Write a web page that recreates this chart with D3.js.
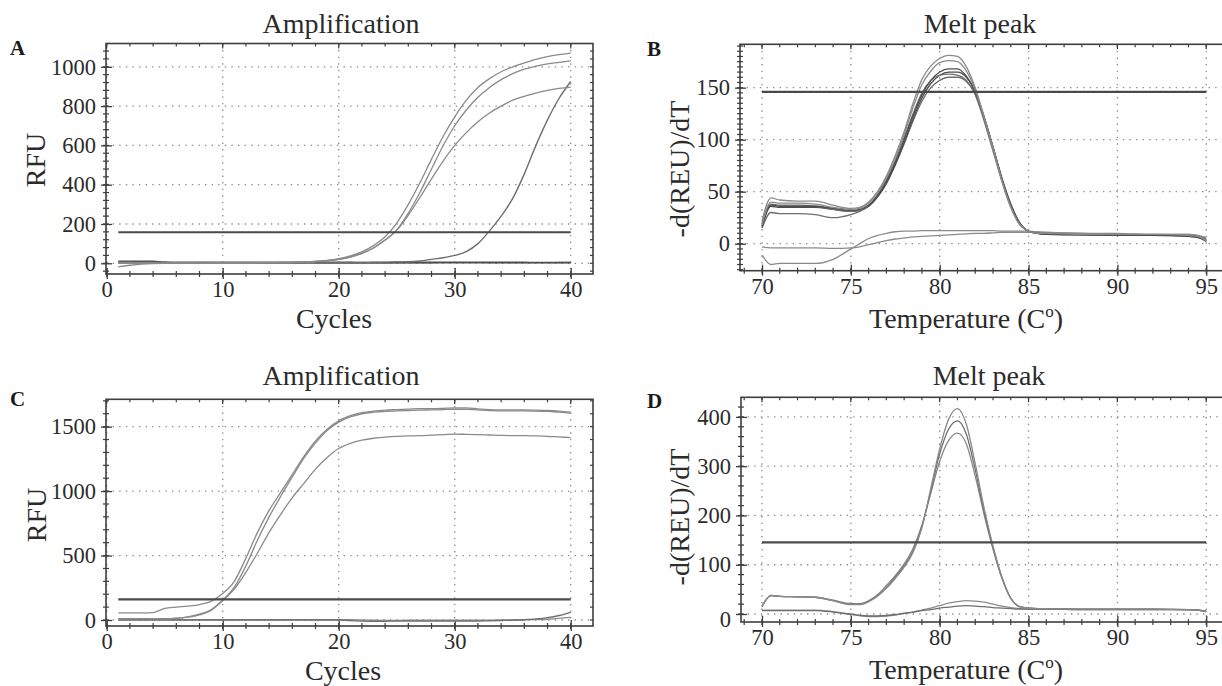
<!DOCTYPE html>
<html><head><meta charset="utf-8">
<script src="https://cdn.jsdelivr.net/npm/d3@7"></script>
<style>
body{margin:0;background:#fff;}
svg{display:block;}
svg text{font-family:"Liberation Serif","Times New Roman",serif !important;}
</style></head><body>
<svg id="chart" width="1222" height="686"></svg>
<script>
// ---------- DATA ----------
const cycles = [1,2,3,4,5,6,7,8,9,10,11,12,13,14,15,16,17,18,19,20,21,22,23,24,25,26,27,28,29,30,31,32,33,34,35,36,37,38,39,40];

// Panel A amplification (RFU)
const ampA1 = [3,2,2,1,1,2,2,1,1,2,2,2,3,3,4,5,7,10,15,24,38,58,90,135,205,300,410,530,645,745,830,895,940,975,1000,1020,1038,1052,1062,1070];
const ampA2 = [0,1,1,0,0,1,1,0,0,1,1,1,2,2,3,4,6,9,13,20,32,50,78,118,170,255,360,480,598,700,780,845,895,935,965,988,1003,1015,1023,1030];
const ampA3 = [1,1,0,0,1,1,0,0,1,1,1,2,2,3,3,4,6,9,13,20,32,50,78,118,168,245,335,430,520,600,665,720,765,800,830,850,866,880,890,897];
const ampA4 = [5,5,4,4,3,3,3,2,2,2,2,2,2,2,2,2,2,3,3,3,4,4,5,6,7,8,12,20,28,40,60,100,165,240,330,455,600,730,840,925];
const ampA5 = [-18,-10,-4,-1,0,0,1,1,1,0,0,1,1,1,1,0,0,1,1,1,1,1,1,1,2,2,2,2,2,2,2,2,3,3,3,3,3,3,4,4];
const ampA6 = [10,10,10,9,6,5,5,4,4,5,5,5,4,4,4,5,5,4,4,4,4,3,3,3,4,4,4,4,5,5,5,5,4,4,4,4,3,3,3,3];
const thresholdA = 158;

// Panel C amplification (RFU)
const ampC1 = [55,55,55,58,90,100,108,120,145,205,300,480,680,850,990,1130,1270,1390,1480,1545,1585,1608,1620,1628,1632,1636,1640,1640,1642,1645,1645,1638,1632,1630,1630,1630,1628,1625,1620,1612];
const ampC2 = [10,10,10,10,10,15,25,45,80,155,255,420,620,800,960,1110,1255,1375,1470,1535,1575,1600,1612,1618,1622,1625,1628,1630,1632,1635,1635,1630,1625,1622,1622,1622,1620,1618,1612,1605];
const ampC3 = [8,8,8,8,8,12,22,40,75,150,240,370,520,680,820,950,1060,1170,1260,1330,1370,1395,1410,1418,1424,1428,1430,1434,1438,1442,1440,1438,1435,1432,1430,1430,1428,1425,1420,1415];
const ampC4 = [0,0,0,0,0,0,0,0,0,0,0,0,0,0,0,0,0,0,0,0,-5,-8,-10,-10,-8,-8,-8,-8,-8,-8,-8,-8,-6,-4,-2,2,8,18,35,60];
const ampC5 = [3,3,3,3,3,3,3,3,3,3,3,3,3,3,3,3,3,3,3,3,2,0,-2,-3,-3,-2,-2,-2,-2,-2,-2,-2,-1,0,0,1,3,6,12,20];
const thresholdC = 160;

// Melt temperatures (deg C)
const temps = [70,70.5,71,72,73,74,75,75.5,76,76.5,77,77.5,78,78.5,79,79.5,80,80.5,81,81.5,82,82.5,83,83.5,84,84.5,85,85.5,86,88,90,92,94,94.5,95];

// Panel B melt peak -d(RFU)/dT
const meltB1 = [22,44,42,41,41,37,34,35,40,50,65,85,108,135,158,171,178,181,180,170,150,122,92,60,35,18,12,10,10,10,9,9,9,8,3];
const meltB2 = [18,40,39,39,38,35,33,34,39,49,63,82,105,131,153,166,174,176,175,166,148,121,92,61,35,19,12,10,10,9,9,9,8,7,3];
const meltB3 = [16,37,36,36,36,34,32,33,37,46,60,78,100,123,143,157,165,168,168,161,146,121,92,62,37,20,12,10,9,9,8,8,8,7,4];
const meltB4 = [17,36,35,35,35,33,31,32,36,45,58,76,97,120,140,154,162,165,165,160,146,122,93,63,38,20,12,10,9,9,8,8,7,6,3];
const meltB5 = [15,30,29,29,28,25,28,31,36,45,58,76,96,118,137,150,157,160,160,156,144,121,93,63,38,20,12,10,9,8,8,8,7,6,2];
const meltB6 = [20,38,37,37,36,33,31,32,37,47,61,80,102,125,145,157,162,163,162,157,143,118,89,60,36,19,12,10,10,9,9,8,8,7,3];
const meltBn1 = [-3,-4,-4,-4,-4,-4.5,-4,-3,-1,1,3,4.5,5.5,6.5,7,7.5,8,8.5,9,9.5,10,10,10.5,11,11,11,11,11,10.5,10,9,8,8,7,5];
const meltBn2 = [-11,-20,-19,-19,-19,-15,-5,0,5,8,10,11.5,12,12,12.5,12.5,12.5,12.5,12.5,12.5,12.5,12.5,12.5,12,12,12,12,11.5,11,10,10,9,9,8,6];
const thresholdB = 146;

// Panel D melt peak
const meltD1 = [15,38,36,35,34,27,19,19,25,36,52,72,95,125,175,255,335,395,417,385,305,215,138,75,32,15,12,11,11,10,10,10,9,8,5];
const meltD2 = [15,38,36,35,34,27,20,20,26,37,54,75,98,128,178,250,325,375,392,365,293,208,135,74,32,15,12,11,11,10,10,10,9,8,5];
const meltD3 = [16,37,36,35,34,28,21,21,27,39,58,78,102,133,180,245,310,352,367,345,280,202,132,73,32,15,12,11,11,10,10,10,9,8,5];
const meltDn1 = [8,8,8,8,8,5,0,-3,-5,-5,-4,-2,1,4,8,12,17,22,25,27,26,24,20,16,13,11,10,10,10,9,9,9,9,8,6];
const meltDn2 = [7,7,7,7,7,4,-1,-3,-4,-4,-3,-1,2,4,7,9,12,14,16,17,16,15,13,12,11,10,10,10,10,9,9,9,9,8,6];
const thresholdD = 145.5;

// Tick labels
const ampXTicks = [0,10,20,30,40];
const ampAYTicks = [0,200,400,600,800,1000];
const ampCYTicks = [0,500,1000,1500];
const meltXTicks = [70,75,80,85,90,95];
const meltBYTicks = [0,50,100,150];
const meltDYTicks = [0,100,200,300,400];

// ---------- DRAW ----------
const FONT = '"Liberation Serif","Times New Roman",serif';
const svg = d3.select("#chart");
svg.append("rect").attr("width",1222).attr("height",686).attr("fill","#fff");
const TXT = "#2b2b2b", AX = "#3e3e3e";

function panel(c, idx){
  const g = svg.append("g");
  const x = d3.scaleLinear().domain(c.xDomain).range([c.left, c.right]);
  const y = d3.scaleLinear().domain(c.yDomain).range([c.bottom, c.top]);
  const clipId = "clip"+idx;
  g.append("clipPath").attr("id",clipId).append("rect")
    .attr("x",c.left).attr("y",c.top).attr("width",c.right-c.left).attr("height",c.bottom-c.top);

  // grid
  const grid = g.append("g").attr("clip-path",`url(#${clipId})`)
    .attr("stroke","#8c8c8c").attr("stroke-width",1.3).attr("stroke-dasharray","1.4,5.2");
  c.xTicks.forEach(v=>grid.append("line").attr("x1",x(v)).attr("x2",x(v)).attr("y1",c.top).attr("y2",c.bottom));
  c.yTicks.forEach(v=>grid.append("line").attr("x1",c.left).attr("x2",c.right).attr("y1",y(v)).attr("y2",y(v)));

  // minor ticks
  const mg = g.append("g").attr("stroke",AX).attr("stroke-width",1.2);
  c.xMinor.forEach(v=>{
    if (x(v) < c.left-0.5 || x(v) > c.right) return;
    mg.append("line").attr("x1",x(v)).attr("x2",x(v)).attr("y1",c.bottom-3).attr("y2",c.bottom+3);
    mg.append("line").attr("x1",x(v)).attr("x2",x(v)).attr("y1",c.top).attr("y2",c.top+3);
  });
  c.yMinor.forEach(v=>{
    if (y(v) > c.bottom || y(v) < c.top) return;
    mg.append("line").attr("y1",y(v)).attr("y2",y(v)).attr("x1",c.left-3).attr("x2",c.left+3);
    mg.append("line").attr("y1",y(v)).attr("y2",y(v)).attr("x1",c.right-3).attr("x2",c.right);
  });

  // axes (major ticks + labels)
  const xa = g.append("g").attr("transform",`translate(0,${c.bottom})`)
    .call(d3.axisBottom(x).tickValues(c.xTicks).tickSize(5).tickPadding(2).tickFormat(d3.format("d")));
  xa.attr("font-family",FONT);
  xa.select(".domain").remove();
  xa.selectAll(".tick line").attr("y1",-6).attr("stroke",AX).attr("stroke-width",1.3);
  xa.selectAll(".tick text").attr("font-size",22.5).attr("fill",TXT).style("font-family",FONT);
  const ya = g.append("g").attr("transform",`translate(${c.left},0)`)
    .call(d3.axisLeft(y).tickValues(c.yTicks).tickSize(5).tickPadding(5).tickFormat(d3.format("d")));
  ya.attr("font-family",FONT);
  ya.select(".domain").remove();
  ya.selectAll(".tick line").attr("x1",6).attr("stroke",AX).attr("stroke-width",1.3);
  ya.selectAll(".tick text").attr("font-size",22.5).attr("fill",TXT).style("font-family",FONT);
  if (c.zeroShift) ya.selectAll(".tick text").filter(d=>d===0).attr("dy",(0.32*22.5+c.zeroShift)+"px");

  // top ticks for major
  c.xTicks.forEach(v=>mg.append("line").attr("x1",x(v)).attr("x2",x(v)).attr("y1",c.top).attr("y2",c.top+5));

  // frame
  g.append("rect").attr("x",c.left).attr("y",c.top).attr("width",c.right-c.left).attr("height",c.bottom-c.top)
    .attr("fill","none").attr("stroke",AX).attr("stroke-width",1.6);

  // curves
  const cg = g.append("g").attr("clip-path",`url(#${clipId})`);
  const line = d3.line().x(d=>x(d[0])).y(d=>y(d[1])).curve(d3.curveMonotoneX);
  c.series.forEach(s=>{
    cg.append("path").attr("d",line(c.xs.map((xv,i)=>[xv,s.v[i]])))
      .attr("fill","none").attr("stroke",s.color).attr("stroke-width",s.w||1.3);
  });
  // threshold
  cg.append("line").attr("x1",x(c.thrX[0])).attr("x2",x(c.thrX[1]))
    .attr("y1",y(c.thr)).attr("y2",y(c.thr)).attr("stroke","#4a4a4a").attr("stroke-width",2.2);

  // texts
  g.append("text").attr("x",c.titleX).attr("y",c.titleY).attr("text-anchor","middle")
    .attr("font-size",28).attr("fill",TXT).style("font-family",FONT).text(c.title);
  const xt = g.append("text").attr("x",c.xLabX).attr("y",c.xLabY).attr("text-anchor","middle")
    .attr("font-size",28).attr("fill",TXT).style("font-family",FONT);
  if (c.xLabSup){
    xt.append("tspan").text(c.xLab);
    xt.append("tspan").attr("dx",7).text("(C");
    xt.append("tspan").attr("font-size",17).attr("dy","-11").text(c.xLabSup);
    xt.append("tspan").attr("dy","11").text(")");
  } else xt.text(c.xLab);
  g.append("text").attr("transform",`translate(${c.yLabX},${c.yLabY}) rotate(-90)`).attr("text-anchor","middle")
    .attr("font-size",28).attr("fill",TXT).style("font-family",FONT).text(c.yLab);
  g.append("text").attr("x",c.letterX).attr("y",c.letterY).attr("font-size",21).attr("font-weight","bold")
    .attr("fill","#1a1a1a").style("font-family",FONT).text(c.letter);
}

const grayL = "#8a8a8a", grayM = "#6e6e6e", grayD = "#4d4d4d";

panel({
  letter:"A", letterX:10, letterY:55,
  title:"Amplification", titleX:341, titleY:33,
  xLab:"Cycles", xLabX:334, xLabY:328,
  yLab:"RFU", yLabX:45, yLabY:160,
  left:106, right:593, top:43.5, bottom:274,
  xDomain:[-0.06,41.92], yDomain:[-54.5,1118.6],
  xTicks:ampXTicks, yTicks:ampAYTicks,
  xMinor:d3.range(0,42,2), yMinor:d3.range(-40,1120,40),
  xs:cycles, thr:thresholdA, thrX:[1,40],
  series:[{v:ampA5,color:grayL},{v:ampA6,color:grayD,w:1.8},{v:ampA4,color:grayM,w:1.4},
          {v:ampA3,color:grayL},{v:ampA2,color:grayL},{v:ampA1,color:grayL}]
},0);

panel({
  letter:"B", letterX:647, letterY:56,
  title:"Melt peak", titleX:980, titleY:33,
  xLab:"Temperature", xLabSup:"o", xLabX:966, xLabY:328,
  yLab:"-d(REU)/dT", yLabX:689, yLabY:169,
  left:740, right:1240, top:44.3, bottom:270.7,
  xDomain:[68.76,96.9], yDomain:[-25.96,191.7],
  xTicks:meltXTicks, yTicks:meltBYTicks,
  xMinor:d3.range(69,97,1), yMinor:d3.range(-25,195,5),
  xs:temps, thr:thresholdB, thrX:[70,95],
  series:[{v:meltBn1,color:grayL},{v:meltBn2,color:grayL},
          {v:meltB5,color:grayM},{v:meltB4,color:grayD},{v:meltB6,color:grayM},{v:meltB3,color:grayD},
          {v:meltB2,color:grayL},{v:meltB1,color:grayL}]
},1);

panel({
  letter:"C", letterX:10, letterY:406,
  title:"Amplification", titleX:341, titleY:385,
  xLab:"Cycles", xLabX:343, xLabY:680,
  yLab:"RFU", yLabX:46, yLabY:515,
  left:106, right:593, top:399.3, bottom:626,
  xDomain:[-0.06,41.92], yDomain:[-46.5,1712],
  xTicks:ampXTicks, yTicks:ampCYTicks,
  xMinor:d3.range(0,42,2), yMinor:d3.range(0,1800,100),
  xs:cycles, thr:thresholdC, thrX:[1,40],
  series:[{v:ampC5,color:grayL},{v:ampC4,color:grayM},{v:ampC3,color:grayL},{v:ampC2,color:grayL},{v:ampC1,color:grayL}]
},2);

panel({
  letter:"D", letterX:647, letterY:408,
  title:"Melt peak", titleX:989, titleY:385,
  xLab:"Temperature", xLabSup:"o", xLabX:966, xLabY:679,
  yLab:"-d(REU)/dT", yLabX:689, yLabY:517,
  left:741, right:1240, top:397.3, bottom:622,
  xDomain:[68.82,96.9], yDomain:[-16.2,439.8],
  xTicks:meltXTicks, yTicks:meltDYTicks, zeroShift:5,
  xMinor:d3.range(69,97,1), yMinor:d3.range(0,440,20),
  xs:temps, thr:thresholdD, thrX:[70,95],
  series:[{v:meltDn1,color:grayL},{v:meltDn2,color:grayM},{v:meltD3,color:grayL},{v:meltD2,color:grayM},{v:meltD1,color:grayL}]
},3);
</script>
</body></html>
